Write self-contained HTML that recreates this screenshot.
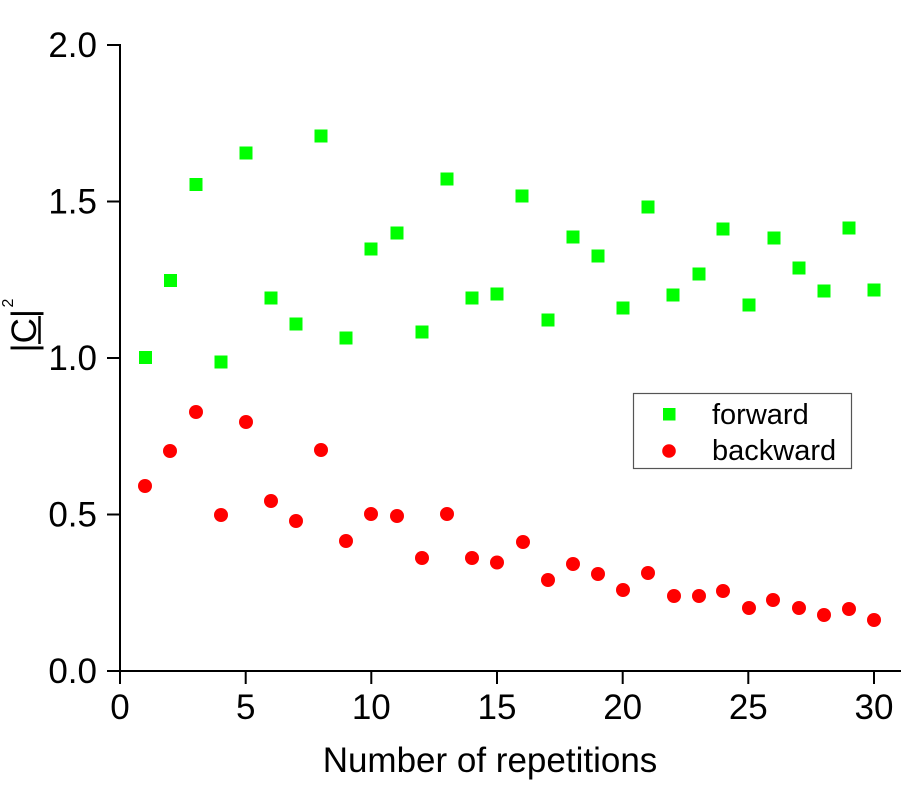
<!DOCTYPE html>
<html>
<head>
<meta charset="utf-8">
<style>
html,body{margin:0;padding:0;background:#fff;}
svg{display:block;}
text{font-family:"Liberation Sans",Arial,sans-serif;fill:#000;}
</style>
</head>
<body>
<svg width="901" height="800" viewBox="0 0 901 800" xmlns="http://www.w3.org/2000/svg">
<rect width="901" height="800" fill="#fff"/>
<!-- axes -->
<g stroke="#000" stroke-width="2" fill="none">
<line x1="120" y1="44" x2="120" y2="684"/>
<line x1="107" y1="671" x2="901" y2="671"/>
<!-- y ticks -->
<line x1="107" y1="45" x2="120" y2="45"/>
<line x1="107" y1="201.5" x2="120" y2="201.5"/>
<line x1="107" y1="358" x2="120" y2="358"/>
<line x1="107" y1="514.5" x2="120" y2="514.5"/>
<!-- x ticks -->
<line x1="245.7" y1="671" x2="245.7" y2="684"/>
<line x1="371.3" y1="671" x2="371.3" y2="684"/>
<line x1="497" y1="671" x2="497" y2="684"/>
<line x1="622.7" y1="671" x2="622.7" y2="684"/>
<line x1="748.3" y1="671" x2="748.3" y2="684"/>
<line x1="874" y1="671" x2="874" y2="684"/>
</g>
<!-- y tick labels -->
<g font-size="35" text-anchor="end">
<text x="97" y="57">2.0</text>
<text x="97" y="213.5">1.5</text>
<text x="97" y="370">1.0</text>
<text x="97" y="526.5">0.5</text>
<text x="97" y="683">0.0</text>
</g>
<!-- x tick labels -->
<g font-size="35" text-anchor="middle">
<text x="120" y="719">0</text>
<text x="245.7" y="719">5</text>
<text x="371.3" y="719">10</text>
<text x="497" y="719">15</text>
<text x="622.7" y="719">20</text>
<text x="748.3" y="719">25</text>
<text x="874" y="719">30</text>
</g>
<text x="490" y="772" font-size="35" text-anchor="middle">Number of repetitions</text>
<!-- y label -->
<g transform="rotate(-90)">
<text x="-352.5" y="36" font-size="35">|C|</text>
<text x="-307.5" y="13" font-size="16">2</text>
</g>
<line x1="39.5" y1="316" x2="39.5" y2="344" stroke="#000" stroke-width="2.5"/>
<!-- forward squares -->
<g fill="#00ff00">
<rect x="139" y="351" width="13" height="13"/>
<rect x="164" y="274" width="13" height="13"/>
<rect x="189.5" y="178" width="13" height="13"/>
<rect x="214.5" y="355.5" width="13" height="13"/>
<rect x="239.5" y="146.5" width="13" height="13"/>
<rect x="264.5" y="291.5" width="13" height="13"/>
<rect x="289.5" y="317.5" width="13" height="13"/>
<rect x="314.5" y="129.5" width="13" height="13"/>
<rect x="339.5" y="331.5" width="13" height="13"/>
<rect x="364.5" y="242.5" width="13" height="13"/>
<rect x="390.5" y="226.5" width="13" height="13"/>
<rect x="415.5" y="325.5" width="13" height="13"/>
<rect x="440.5" y="172.5" width="13" height="13"/>
<rect x="465.5" y="291.5" width="13" height="13"/>
<rect x="490.5" y="287.5" width="13" height="13"/>
<rect x="515.5" y="189.5" width="13" height="13"/>
<rect x="541.5" y="313.5" width="13" height="13"/>
<rect x="566.5" y="230.5" width="13" height="13"/>
<rect x="591.5" y="249.5" width="13" height="13"/>
<rect x="616.5" y="301.5" width="13" height="13"/>
<rect x="641.5" y="200.5" width="13" height="13"/>
<rect x="666.5" y="288.5" width="13" height="13"/>
<rect x="692.5" y="267.5" width="13" height="13"/>
<rect x="716.5" y="222.5" width="13" height="13"/>
<rect x="742.5" y="298.5" width="13" height="13"/>
<rect x="767.5" y="231.5" width="13" height="13"/>
<rect x="792.5" y="261.5" width="13" height="13"/>
<rect x="817.5" y="284.5" width="13" height="13"/>
<rect x="842.5" y="221.5" width="13" height="13"/>
<rect x="867.5" y="283.5" width="13" height="13"/>
</g>
<!-- backward circles -->
<g fill="#ff0000">
<circle cx="145" cy="486" r="7"/>
<circle cx="170" cy="451" r="7"/>
<circle cx="196" cy="412" r="7"/>
<circle cx="221" cy="515" r="7"/>
<circle cx="246" cy="422" r="7"/>
<circle cx="271" cy="501" r="7"/>
<circle cx="296" cy="521" r="7"/>
<circle cx="321" cy="450" r="7"/>
<circle cx="346" cy="541" r="7"/>
<circle cx="371" cy="514" r="7"/>
<circle cx="397" cy="516" r="7"/>
<circle cx="422" cy="558" r="7"/>
<circle cx="447" cy="514" r="7"/>
<circle cx="472" cy="558" r="7"/>
<circle cx="497" cy="562.5" r="7"/>
<circle cx="523" cy="542" r="7"/>
<circle cx="548" cy="580" r="7"/>
<circle cx="573" cy="564" r="7"/>
<circle cx="598" cy="574" r="7"/>
<circle cx="623" cy="590" r="7"/>
<circle cx="648" cy="573" r="7"/>
<circle cx="674" cy="596" r="7"/>
<circle cx="699" cy="596" r="7"/>
<circle cx="723" cy="591" r="7"/>
<circle cx="749" cy="608" r="7"/>
<circle cx="773" cy="600" r="7"/>
<circle cx="799" cy="608" r="7"/>
<circle cx="824" cy="615" r="7"/>
<circle cx="849" cy="609" r="7"/>
<circle cx="874" cy="620" r="7"/>
</g>
<!-- legend -->
<rect x="633.5" y="393.5" width="218" height="75" fill="#fff" stroke="#555" stroke-width="1.2"/>
<rect x="663" y="408" width="12.5" height="12.5" fill="#00ff00"/>
<circle cx="669" cy="451" r="6.8" fill="#ff0000"/>
<text x="712" y="424" font-size="29">forward</text>
<text x="712" y="460" font-size="29">backward</text>
</svg>
</body>
</html>
